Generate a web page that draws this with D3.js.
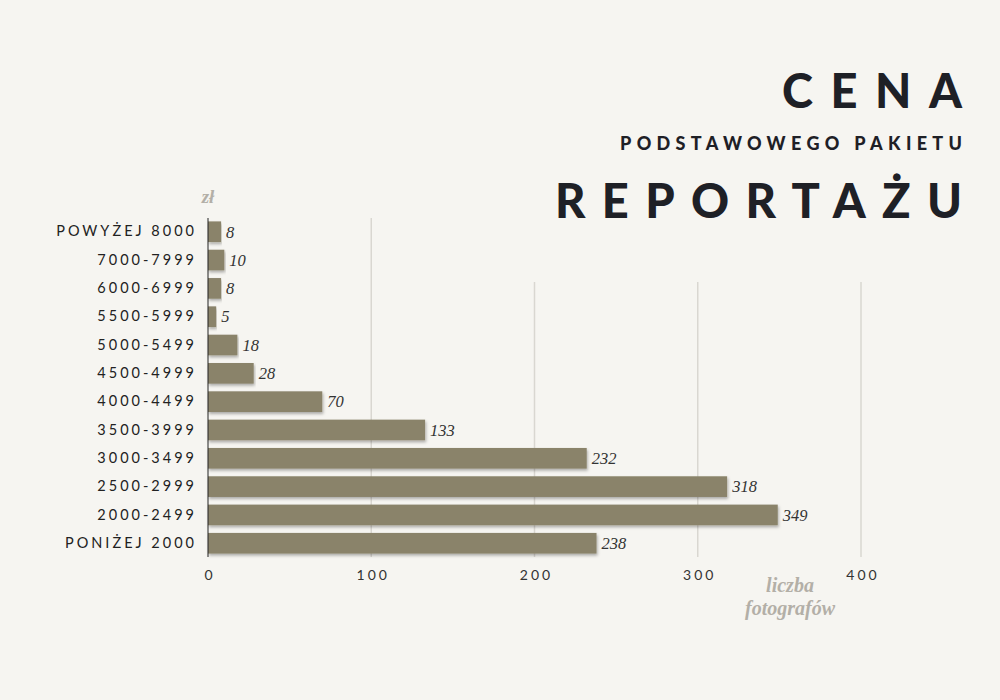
<!DOCTYPE html>
<html>
<head>
<meta charset="utf-8">
<script src="https://cdn.jsdelivr.net/npm/d3@7"></script>
<style>
    body { margin: 0; background: #f6f5f1; }
    svg { display: block; }
    .cat text { font-family: Lato, "DejaVu Sans", sans-serif; font-size: 14.5px; letter-spacing: 3px; fill: #222; }
    .x.axis text { font-family: Lato, "DejaVu Sans", sans-serif; font-size: 14px; letter-spacing: 3px; fill: #333; }
    .value { font-family: "Liberation Serif", "DejaVu Serif", serif; font-style: italic; font-size: 16.5px; fill: #333; }
    .note { font-family: "Liberation Serif", "DejaVu Serif", serif; font-style: italic; font-weight: bold; fill: #b3afa7; }
    .title { font-family: Lato, "DejaVu Sans", sans-serif; font-weight: 900; fill: #1e2026; }
</style>
</head>
<body>
<script>
var categories = ['POWYŻEJ 8000', '7000-7999', '6000-6999', '5500-5999', '5000-5499', '4500-4999',
                  '4000-4499', '3500-3999', '3000-3499', '2500-2999', '2000-2499', 'PONIŻEJ 2000'];
var counts = [8, 10, 8, 5, 18, 28, 70, 133, 232, 318, 349, 238];
var xTicks = [0, 100, 200, 300, 400];

var svgWidth = 1000, svgHeight = 700;
var plotLeft = 208, plotTop = 218, plotBottom = 557;

var dataset = categories.map(function(c, i) { return { cat: c, count: counts[i] }; });

var xScale = d3.scaleLinear()
    .domain([0, 400])
    .range([plotLeft, plotLeft + 653]);

var yScale = d3.scaleBand()
    .domain(categories)
    .range([plotTop, plotBottom])
    .paddingInner(0.27)
    .paddingOuter(0.12);

var svg = d3.select('body')
    .append('svg')
    .attr('width', svgWidth)
    .attr('height', svgHeight);

// bar shadow
var defs = svg.append('defs');
defs.append('filter')
    .attr('id', 'shadow')
    .attr('x', '-5%').attr('y', '-30%').attr('width', '110%').attr('height', '170%')
    .append('feDropShadow')
    .attr('dx', 1).attr('dy', 2)
    .attr('stdDeviation', 1.5)
    .attr('flood-color', '#000')
    .attr('flood-opacity', 0.3);

svg.append('rect')
    .attr('width', svgWidth)
    .attr('height', svgHeight)
    .attr('fill', '#f6f5f1');

// gridlines
svg.append('g')
    .selectAll('line')
    .data(xTicks.slice(1))
    .enter()
    .append('line')
    .attr('x1', function(d) { return xScale(d); })
    .attr('x2', function(d) { return xScale(d); })
    .attr('y1', plotTop)
    .attr('y2', plotBottom)
    .attr('stroke', '#d9d7d1')
    .attr('stroke-width', 1.5);

// title sits on a plain patch that hides the grid's top
svg.append('rect')
    .attr('x', 420).attr('y', 0)
    .attr('width', 580).attr('height', 282)
    .attr('fill', '#f6f5f1');

svg.append('text')
    .attr('class', 'title')
    .attr('x', 782).attr('y', 108)
    .attr('font-size', 47)
    .attr('textLength', 180)
    .attr('lengthAdjust', 'spacing')
    .text('CENA');

svg.append('text')
    .attr('class', 'title')
    .attr('x', 620).attr('y', 150)
    .attr('font-size', 18)
    .attr('font-weight', 700)
    .attr('textLength', 342)
    .attr('lengthAdjust', 'spacing')
    .text('PODSTAWOWEGO PAKIETU');

svg.append('text')
    .attr('class', 'title')
    .attr('x', 555).attr('y', 218)
    .attr('font-size', 47)
    .attr('textLength', 407)
    .attr('lengthAdjust', 'spacing')
    .text('REPORTAŻU');

// bars
svg.append('g')
    .selectAll('rect')
    .data(dataset)
    .enter()
    .append('rect')
    .attr('x', xScale(0))
    .attr('y', function(d) { return yScale(d.cat); })
    .attr('width', function(d) { return xScale(d.count) - xScale(0); })
    .attr('height', yScale.bandwidth())
    .attr('fill', '#8a836b')
    .attr('filter', 'url(#shadow)');

svg.append('g')
    .selectAll('text')
    .data(dataset)
    .enter()
    .append('text')
    .attr('class', 'value')
    .attr('x', function(d) { return xScale(d.count) + 5; })
    .attr('y', function(d) { return yScale(d.cat) + yScale.bandwidth() / 2; })
    .attr('dy', '0.35em')
    .text(function(d) { return d.count; });

// category axis
var yAxis = d3.axisLeft(yScale).tickSize(0).tickPadding(8);
svg.append('g')
    .attr('class', 'cat')
    .attr('transform', 'translate(' + plotLeft + ', 0)')
    .call(yAxis)
    .call(function(g) {
        g.select('.domain').attr('stroke', '#222').attr('d', 'M0,' + plotTop + 'V' + plotBottom);
        g.selectAll('text').attr('dx', '-3px');
    });

// value axis
var xAxis = d3.axisBottom(xScale).tickValues(xTicks).tickSize(0).tickPadding(12);
svg.append('g')
    .attr('class', 'x axis')
    .attr('transform', 'translate(0, ' + (plotBottom + 1) + ')')
    .call(xAxis)
    .call(function(g) {
        g.select('.domain').remove();
        g.selectAll('text').attr('dx', '1.5px');
    });

svg.append('text')
    .attr('class', 'note')
    .attr('x', plotLeft).attr('y', 203)
    .attr('text-anchor', 'middle')
    .attr('font-size', 19)
    .text('zł');

svg.append('text')
    .attr('class', 'note')
    .attr('x', 790).attr('y', 592)
    .attr('text-anchor', 'middle')
    .attr('font-size', 20)
    .text('liczba');

svg.append('text')
    .attr('class', 'note')
    .attr('x', 790).attr('y', 615)
    .attr('text-anchor', 'middle')
    .attr('font-size', 20)
    .text('fotografów');
</script>
</body>
</html>
